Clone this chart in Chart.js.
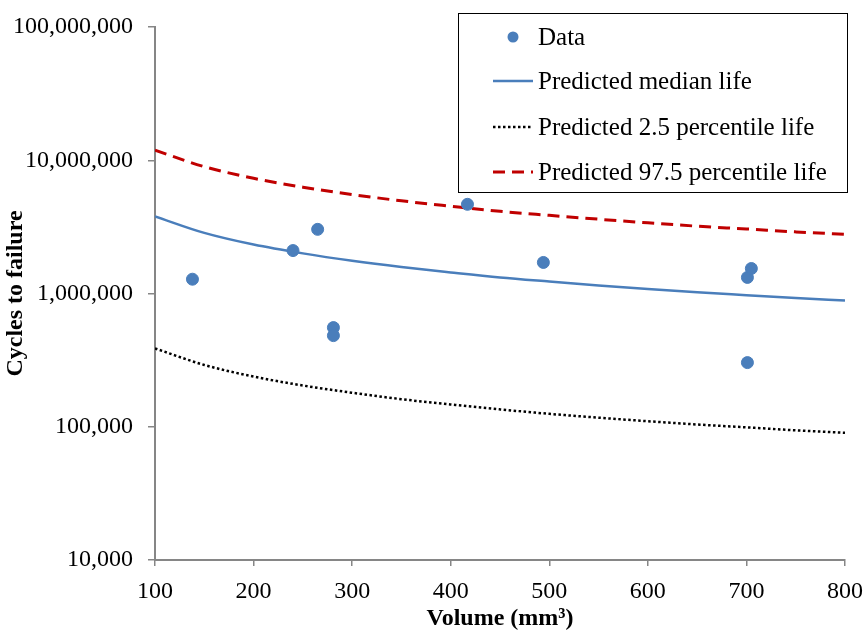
<!DOCTYPE html>
<html><head><meta charset="utf-8">
<script src="https://cdn.jsdelivr.net/npm/chart.js@4/dist/chart.umd.min.js"></script>
<style>html,body{margin:0;padding:0;background:#fff}canvas{display:block}</style>
</head><body>
<canvas id="c" width="864" height="633"></canvas>
<script>
// Measured data points (Volume mm^3, cycles to failure)
const dataVolume = [138, 240, 265, 281, 281, 417, 494, 701, 705, 701];
const dataCycles = [1280000, 2100000, 3030000, 555000, 483000, 4670000, 1710000, 1320000, 1540000, 303000];
// Prediction curves
const curveVolume = [100, 150, 200, 250, 300, 350, 400, 450, 500, 550, 600, 650, 700, 750, 800];
const medianLife = [3790000, 2850000, 2330000, 2000000, 1760000, 1580000, 1440000, 1320000, 1230000, 1150000, 1080000, 1020000, 971000, 925000, 885000];
const lowerLife = [387000, 291000, 238000, 204000, 180000, 161000, 147000, 135000, 125000, 117000, 110000, 104000, 99000, 94000, 90000];
const upperLife = [11900000, 8950000, 7320000, 6280000, 5530000, 4960000, 4520000, 4140000, 3860000, 3610000, 3390000, 3200000, 3050000, 2900000, 2780000];
const yTicks = [10000, 100000, 1000000, 10000000, 100000000];
const seriesNames = ['Data', 'Predicted median life', 'Predicted 2.5 percentile life', 'Predicted 97.5 percentile life'];

const FONT = '"Liberation Serif", "Times New Roman", serif';
const pts = (xs, ys) => xs.map((x, i) => ({x, y: ys[i]}));
const BLUE = '#4a7ebb';

const legendPlugin = {
  id: 'boxLegend',
  afterDraw(chart) {
    const ctx = chart.ctx;
    const L = 458, T = 13, R = 847, B = 192;
    ctx.save();
    ctx.fillStyle = '#fff';
    ctx.fillRect(L, T, R - L, B - T);
    ctx.strokeStyle = '#000';
    ctx.lineWidth = 1;
    ctx.strokeRect(L + 0.5, T + 0.5, R - L, B - T);
    const rows = [37, 81, 127, 172];
    ctx.font = '25px ' + FONT;
    ctx.textBaseline = 'middle';
    chart.data.datasets.forEach((ds, i) => {
      const y = rows[i];
      if (i === 0) {
        ctx.beginPath();
        ctx.fillStyle = ds.backgroundColor;
        ctx.arc(513, y, 5.5, 0, Math.PI * 2);
        ctx.fill();
      } else {
        ctx.beginPath();
        ctx.strokeStyle = ds.borderColor;
        ctx.lineWidth = ds.borderWidth;
        ctx.setLineDash(ds.borderDash || []);
        ctx.moveTo(493, y);
        ctx.lineTo(533, y);
        ctx.stroke();
        ctx.setLineDash([]);
      }
      ctx.fillStyle = '#000';
      ctx.fillText(ds.label, 538, y + 1);
    });
    ctx.restore();
  }
};

new Chart(document.getElementById('c'), {
  type: 'scatter',
  data: {
    datasets: [
      {label: seriesNames[0], data: pts(dataVolume, dataCycles), backgroundColor: BLUE, borderColor: BLUE, pointRadius: 6, pointHoverRadius: 6, showLine: false, order: 0},
      {label: seriesNames[1], type: 'line', data: pts(curveVolume, medianLife), borderColor: BLUE, borderWidth: 2.5, pointRadius: 0, cubicInterpolationMode: 'monotone', fill: false, order: 1},
      {label: seriesNames[2], type: 'line', data: pts(curveVolume, lowerLife), borderColor: '#000', borderWidth: 2.5, borderDash: [2.5, 2.5], pointRadius: 0, cubicInterpolationMode: 'monotone', fill: false, order: 1},
      {label: seriesNames[3], type: 'line', data: pts(curveVolume, upperLife), borderColor: '#c00000', borderWidth: 3, borderDash: [12, 7], pointRadius: 0, cubicInterpolationMode: 'monotone', fill: false, order: 1}
    ]
  },
  options: {
    responsive: false,
    animation: false,
    events: [],
    layout: {padding: {top: 27, right: 19, left: 0, bottom: 0}},
    plugins: {legend: {display: false}, tooltip: {enabled: false}},
    scales: {
      x: {
        type: 'linear', min: 100, max: 800,
        ticks: {stepSize: 100, color: '#000', font: {family: FONT, size: 24}, padding: 11, maxRotation: 0, autoSkip: false},
        grid: {display: true, drawOnChartArea: false, drawTicks: true, tickLength: 6, color: '#868686', lineWidth: 1.5},
        border: {color: '#868686', width: 2},
        title: {display: true, text: 'Volume (mm³)', color: '#000', font: {family: FONT, size: 24, weight: 'bold'}, padding: {top: 0, bottom: 0}},
        afterFit(s) { s.height = 633 - 560; s.paddingLeft = 0; s.paddingRight = 0; }
      },
      y: {
        type: 'logarithmic', min: 10000, max: 100000000,
        afterBuildTicks(s) { s.ticks = yTicks.map(v => ({value: v, major: true})); },
        ticks: {color: '#000', font: {family: FONT, size: 24}, padding: 15,
          callback: v => Number(v).toLocaleString('en-US')},
        grid: {display: true, drawOnChartArea: false, drawTicks: true, tickLength: 7, color: '#868686', lineWidth: 1.5},
        border: {color: '#868686', width: 2},
        title: {display: true, text: 'Cycles to failure', color: '#000', font: {family: FONT, size: 24, weight: 'bold'}, padding: {top: 1, bottom: 0}},
        afterFit(s) { s.width = 155; s.paddingTop = 0; s.paddingBottom = 0; }
      }
    }
  },
  plugins: [legendPlugin]
});
</script>
</body></html>
